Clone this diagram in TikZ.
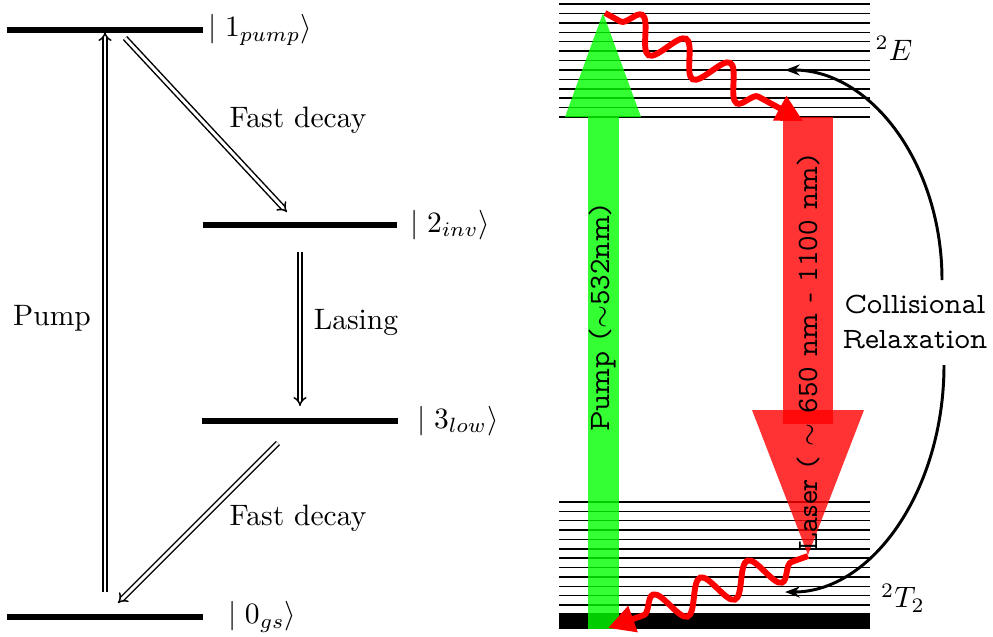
\documentclass[tikz,border=0pt]{standalone}
\usepackage{tikz}
\usetikzlibrary{arrows.meta, decorations.pathmorphing, positioning}
\tikzset{
    energy/.style={
        line width=2pt
    },
    ket/.style={
        anchor=west,
        inner sep=0pt
    },
    transition/.style={
        line width=0.5pt,
        double,
        double distance=1pt,
        -{Implies}
    },
    photon/.style={
        draw=red,
        line width=2pt,
        decorate,
        decoration={snake, amplitude=5.5pt, segment length=17pt,
                    pre length=6pt, post length=10pt},
        -{Triangle[length=9pt,width=9pt]}
    },
    beam/.style={
        fill opacity=0.8
    },
    vtt/.style={
        font=\fontfamily{lmvtt}\selectfont
    }
}

\begin{document}
\begin{tikzpicture}[x=0.0119cm, y=-0.0119cm]
            \useasboundingbox (0,0) rectangle (993,636);

            % Levels (left)
            \draw [energy] (7,30) -- (203,30);
            \draw [energy] (203,225) -- (397,225);
            \draw [energy] (202,421) -- (398,421);
            \draw [energy] (7,617) -- (203,617);

            \node (k1) [ket] at (208,30) {$\mid 1_{pump}\rangle$};
            \node (k2) [ket] at (410,225) {$\mid 2_{inv}\rangle$};
            \node (k3) [ket] at (417,421) {$\mid 3_{low}\rangle$};
            \node (k0) [ket] at (228,617) {$\mid 0_{gs}\rangle$};

            % Transitions
            \coordinate (pumpFrom) at (105,592);
            \coordinate (pumpTo) at (105,32);
            \coordinate (fast1From) at (125,38);
            \coordinate (fast1To) at (287,212);
            \coordinate (laseFrom) at (300,252);
            \coordinate (laseTo) at (300,406);
            \coordinate (fast2From) at (278,443);
            \coordinate (fast2To) at (118,603);

            \draw [transition] (pumpFrom) -- (pumpTo);
            \draw [transition] (fast1From) -- (fast1To);
            \draw [transition] (laseFrom) -- (laseTo);
            \draw [transition] (fast2From) -- (fast2To);

            \node (pumpLbl) at (52,318) {Pump};
            \node (fast1Lbl) at (298,120) {Fast decay};
            \node (laseLbl) at (356,322) {Lasing};
            \node (fast2Lbl) at (298,518) {Fast decay};

            % Bands (right)
            \foreach \i in {0,...,12}
                \draw [line width=0.5pt] (559,{4+9.42*\i}) -- (870,{4+9.42*\i});
            \foreach \i in {0,...,11}
                \draw [line width=0.5pt] (559,{502+9.36*\i}) -- (870,{502+9.36*\i});
            \fill (559,613) rectangle (870,629);

            % Pump and laser beams
            \fill [green, beam] (588,629) rectangle (619,117);
            \fill [green, beam] (565,117) -- (603,13) -- (641,117) -- cycle;
            \fill [red, beam] (783,117) rectangle (833,424);
            \fill [red, beam] (752,410) -- (864,410) -- (808,555) -- cycle;

            \node (pumpTxt) [vtt, rotate=90] at (603,318) {Pump ($\sim$532nm)};
            \node (laserTxt) [vtt, rotate=90] at (808,353) {Laser ( $\sim$ 650 nm - 1100 nm)};
            \node (bandE) at (894,48) {$^2E$};
            \node (bandT) at (903,598) {$^2T_2$};
            \node (coll) [vtt, align=center] at (915,322) {Collisional\\Relaxation};

            % Non-radiative decays
            \coordinate (pumpTop) at (605,13);
            \coordinate (upperEnd) at (803,121);
            \coordinate (laserTip) at (808,556);
            \coordinate (groundEnd) at (608,628);
            \draw [photon] (pumpTop) -- (upperEnd);
            \draw [photon] (laserTip) -- (groundEnd);

            % Collisional relaxation
            \coordinate (collTop) at (942,280);
            \coordinate (collBot) at (944,365);
            \coordinate (eEnd) at (785,70);
            \coordinate (tEnd) at (785,592);
            \draw [line width=1pt, -{Stealth[length=5pt]}] (collTop) .. controls (942,164) and (871,70) .. (eEnd);
            \draw [line width=1pt, -{Stealth[length=5pt]}] (collBot) .. controls (944,490) and (872,592) .. (tEnd);
\end{tikzpicture}
\end{document}
